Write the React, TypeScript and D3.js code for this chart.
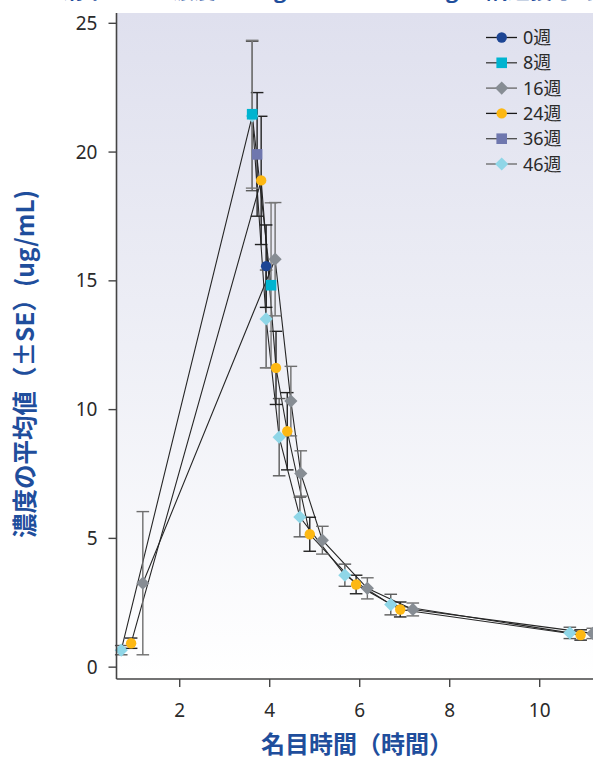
import React from "react";
import * as d3 from "d3";

// Series labels (dosing week)
const weeks = ["0週", "8週", "16週", "24週", "36週", "46週"];

// Nominal time (h), mean concentration (ug/mL) and SE per week
const time0 = [3.92];
const mean0 = [15.57];
const se0 = [1.6];

const time8 = [3.61, 4.03];
const mean8 = [21.47, 14.83];
const se8 = [2.87, 3.2];

const time16 = [1.18, 4.12, 4.47, 4.69, 5.17, 6.17, 7.18, 11.18];
const mean16 = [3.26, 15.84, 10.33, 7.52, 4.93, 3.06, 2.24, 1.31];
const se16 = [2.78, 2.2, 1.35, 0.88, 0.54, 0.41, 0.25, 0.2];

const time24 = [0.92, 3.81, 4.14, 4.39, 4.89, 5.92, 6.9, 10.91];
const mean24 = [0.93, 18.9, 11.62, 9.16, 5.16, 3.21, 2.24, 1.25];
const se24 = [0.2, 2.49, 1.42, 1.5, 0.66, 0.36, 0.29, 0.2];

const time36 = [3.72];
const mean36 = [19.91];
const se36 = [2.4];

const time46 = [0.7, 3.61, 3.92, 4.21, 4.67, 5.67, 6.69, 10.67];
const mean46 = [0.66, 21.4, 13.52, 8.93, 5.83, 3.57, 2.43, 1.33];
const se46 = [0.18, 2.9, 1.9, 1.5, 0.77, 0.43, 0.4, 0.22];

const xTicks = [2, 4, 6, 8, 10];
const yTicks = [0, 5, 10, 15, 20, 25];

type Shape = "circle" | "square" | "diamond";
interface Series {
  name: string;
  t: number[];
  m: number[];
  se: number[];
  color: string;
  shape: Shape;
  legendLine: string;
  err: string;
}

const series: Series[] = [
  { name: weeks[0], t: time0, m: mean0, se: se0, color: "#1d4594", shape: "circle", legendLine: "#1a1a1a", err: "#1a1a1a" },
  { name: weeks[1], t: time8, m: mean8, se: se8, color: "#00b4d0", shape: "square", legendLine: "#3a3a3a", err: "#7a7a7a" },
  { name: weeks[2], t: time16, m: mean16, se: se16, color: "#878d94", shape: "diamond", legendLine: "#666", err: "#6e6e6e" },
  { name: weeks[3], t: time24, m: mean24, se: se24, color: "#fdb813", shape: "circle", legendLine: "#1a1a1a", err: "#222" },
  { name: weeks[4], t: time36, m: mean36, se: se36, color: "#6f77ae", shape: "square", legendLine: "#4a4a4a", err: "#222" },
  { name: weeks[5], t: time46, m: mean46, se: se46, color: "#8fd6e7", shape: "diamond", legendLine: "#666", err: "#5a5a5a" },
];

const W = 593;
const H = 758;
const plotLeft = 116.5;
const plotTop = 13;
const plotBottom = 679;

const x = d3.scaleLinear().domain([0.595, 11.5]).range([plotLeft, 607.2]);
const y = d3.scaleLinear().domain([-0.46, 25.4]).range([plotBottom, plotTop]);

const BLUE = "#1f4e9c";
const FONT = "'Noto Sans', 'Noto Sans CJK JP', sans-serif";
const CJK = "'Noto Sans CJK JP', 'Noto Sans', sans-serif";

function Marker({ shape, cx, cy, color }: { shape: Shape; cx: number; cy: number; color: string }) {
  if (shape === "circle") return <circle cx={cx} cy={cy} r={5.2} fill={color} />;
  if (shape === "square") return <rect x={cx - 5.3} y={cy - 5.3} width={10.6} height={10.6} fill={color} />;
  const s = 6.6;
  return <path d={`M${cx},${cy - s}L${cx + s},${cy}L${cx},${cy + s}L${cx - s},${cy}Z`} fill={color} />;
}

export default function App() {
  const line = d3
    .line<[number, number]>()
    .x((d) => x(d[0]))
    .y((d) => y(d[1]));
  const drawOrder = [...series].reverse();
  const cap = 6.3;

  return (
    <svg
      width={W}
      height={H}
      style={{ position: "absolute", left: 0, top: 0, background: "#fff" }}
      fontFamily={FONT}
    >
      <defs>
        <linearGradient id="plotBg" x1="0" y1="0" x2="0" y2="1">
          <stop offset="0" stopColor="#dfe0ee" />
          <stop offset="0.5" stopColor="#eeeff6" />
          <stop offset="1" stopColor="#ffffff" />
        </linearGradient>
      </defs>

      {/* Chart heading; its line sits above the top edge of the figure */}
      <text y={-2.5} fontFamily={CJK} fontWeight={700} fontSize={22} fill={BLUE}>
        <tspan x={40}>血清中</tspan>
        <tspan x={172}>濃度 40 mg</tspan>
        <tspan x={393}>80 mg</tspan>
        <tspan x={486}>隔週投与時</tspan>
      </text>

      {/* Plot background */}
      <rect x={plotLeft} y={plotTop} width={W - plotLeft} height={plotBottom - plotTop} fill="url(#plotBg)" />

      {/* Connecting lines */}
      {drawOrder.map((s) => (
        <path
          key={"l" + s.name}
          d={line(s.t.map((t, i) => [t, s.m[i]] as [number, number])) || ""}
          fill="none"
          stroke="#262626"
          strokeWidth={1.1}
        />
      ))}

      {/* Error bars (± SE) */}
      {drawOrder.map((s) => (
        <g key={"e" + s.name} stroke={s.err} strokeWidth={1.4}>
          {s.t.map((t, i) => {
            const cx = x(t);
            const hi = y(s.m[i] + s.se[i]);
            const lo = y(s.m[i] - s.se[i]);
            return (
              <g key={i}>
                <line x1={cx} x2={cx} y1={hi} y2={lo} />
                <line x1={cx - cap} x2={cx + cap} y1={hi} y2={hi} />
                <line x1={cx - cap} x2={cx + cap} y1={lo} y2={lo} />
              </g>
            );
          })}
        </g>
      ))}

      {/* Markers */}
      {drawOrder.map((s) => (
        <g key={"m" + s.name}>
          {s.t.map((t, i) => (
            <Marker key={i} shape={s.shape} cx={x(t)} cy={y(s.m[i])} color={s.color} />
          ))}
        </g>
      ))}

      {/* Y axis */}
      <line x1={plotLeft} x2={plotLeft} y1={plotTop} y2={plotBottom} stroke="#444" strokeWidth={1.6} />
      {yTicks.map((v) => (
        <g key={"y" + v}>
          <line x1={plotLeft - 8} x2={plotLeft} y1={y(v)} y2={y(v)} stroke="#444" strokeWidth={1.4} />
          <text x={plotLeft - 19} y={y(v) + 6.5} textAnchor="end" fontSize={19} fill="#2a2a2a">
            {v}
          </text>
        </g>
      ))}

      {/* X axis */}
      <line x1={plotLeft} x2={W} y1={plotBottom} y2={plotBottom} stroke="#444" strokeWidth={1.6} />
      {xTicks.map((v) => (
        <g key={"x" + v}>
          <line x1={x(v)} x2={x(v)} y1={plotBottom} y2={plotBottom + 8} stroke="#444" strokeWidth={1.4} />
          <text x={x(v)} y={717} textAnchor="middle" fontSize={19} fill="#2a2a2a">
            {v}
          </text>
        </g>
      ))}

      {/* Axis titles */}
      <text x={357} y={753} textAnchor="middle" fontFamily={CJK} fontWeight={700} fontSize={24} fill={BLUE}>
        名目時間（時間）
      </text>
      <text
        transform={`translate(34,364) rotate(-90)`}
        textAnchor="middle"
        fontFamily={CJK}
        fontWeight={700}
        fontSize={24.5}
        fill={BLUE}
      >
        濃度の平均値（±SE）(ug/mL)
      </text>

      {/* Legend */}
      {series.map((s, i) => {
        const ly = 37.5 + i * 25.3;
        return (
          <g key={"lg" + s.name}>
            <line x1={486} x2={517} y1={ly} y2={ly} stroke={s.legendLine} strokeWidth={1.3} />
            <Marker shape={s.shape} cx={501.7} cy={ly} color={s.color} />
            <text x={523} y={ly + 6.5} fontSize={18} fill="#2a2a2a">
              {s.name}
            </text>
          </g>
        );
      })}
    </svg>
  );
}
